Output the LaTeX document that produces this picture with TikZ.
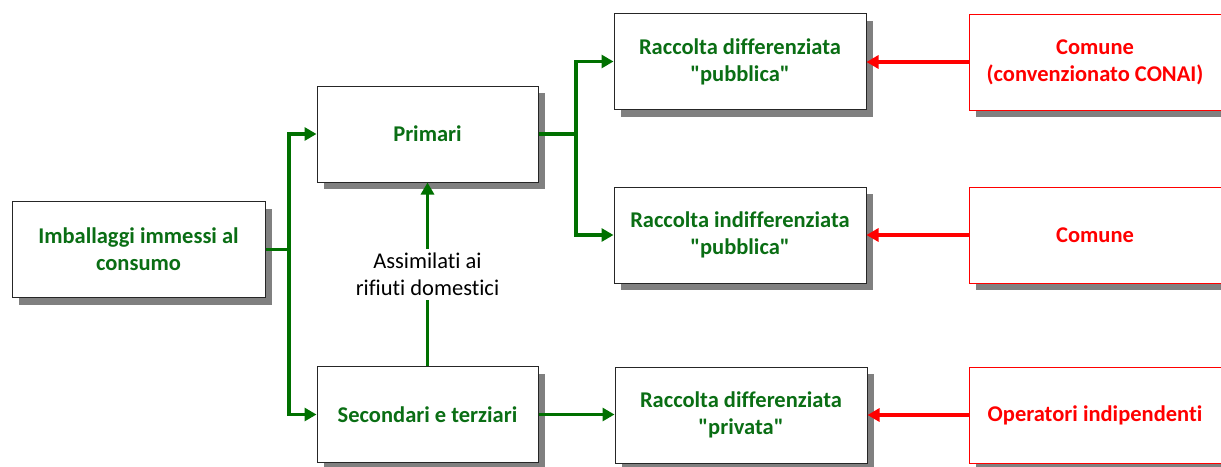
\documentclass[tikz,border=0pt]{standalone}
\usepackage{fontspec}
\setmainfont{Carlito}[Ligatures={TeXOff,NoCommon}]
\usetikzlibrary{arrows.meta,shadows}
\definecolor{dgreen}{RGB}{0,112,0}
\definecolor{txtgreen}{RGB}{10,110,20}
\definecolor{shadowgray}{RGB}{128,128,128}
\tikzset{
  box/.style={draw=black!85, line width=1pt, fill=white, minimum width=#1, minimum height=96pt,
    align=center, font=\fontsize{22.5}{27}\selectfont\bfseries, text=txtgreen,
    drop shadow={fill=shadowgray, opacity=1, shadow xshift=7pt, shadow yshift=-7pt}},
  rbox/.style={box=252pt, draw=red, text=red},
  garrow/.style={draw=dgreen, line width=3.4pt, -{Triangle[length=12pt,width=13pt]}},
  gline/.style={draw=dgreen, line width=3.4pt},
  rarrow/.style={draw=red, line width=3.4pt, -{Triangle[length=12pt,width=13pt]}},
}
\begin{document}
\begin{tikzpicture}[x=1pt,y=-1pt]
\useasboundingbox (0,0) rectangle (1221,466);
\node[box=253pt] (imb) at (138.5,249.5) {Imballaggi immessi al\\consumo};
\node[box=221pt] (pri) at (427.5,134) {Primari};
\node[box=221pt] (sec) at (427.5,414.5) {Secondari e terziari};
\node[box=252pt] (rdp) at (740,61.5) {Raccolta differenziata\\"pubblica"};
\node[box=252pt] (rip) at (740,235) {Raccolta indifferenziata\\"pubblica"};
\node[box=252pt] (rdv) at (741,415) {Raccolta differenziata\\"privata"};
\node[rbox] (c1) at (1095,62) {Comune\\(convenzionato CONAI)};
\node[rbox] (c2) at (1095,235) {Comune};
\node[rbox] (c3) at (1095,415) {Operatori indipendenti};
% trunk 1
\coordinate (j1) at (289,249.5);
\draw[gline] (imb.east) -- (j1);
\draw[garrow] (j1) |- (pri.west);
\draw[garrow] (j1) |- (sec.west);
% trunk 2
\coordinate (j2) at (576,134);
\draw[gline] (pri.east) -- (j2);
\draw[garrow] (j2) |- (rdp.west);
\draw[garrow] (j2) |- (rip.west);
% secondari to privata
\draw[garrow] (sec.east) -- (sec.east -| rdv.west);
% assimilati
\draw[garrow] (sec.north) -- node[fill=white, text=black, align=center, font=\fontsize{22.5}{27}\selectfont, inner sep=4pt] (lab) {Assimilati ai\\rifiuti domestici} (pri.south);
% red arrows
\draw[rarrow] (c1.west) -- (c1.west -| rdp.east);
\draw[rarrow] (c2.west) -- (c2.west -| rip.east);
\draw[rarrow] (c3.west) -- (c3.west -| rdv.east);
\end{tikzpicture}
\end{document}
